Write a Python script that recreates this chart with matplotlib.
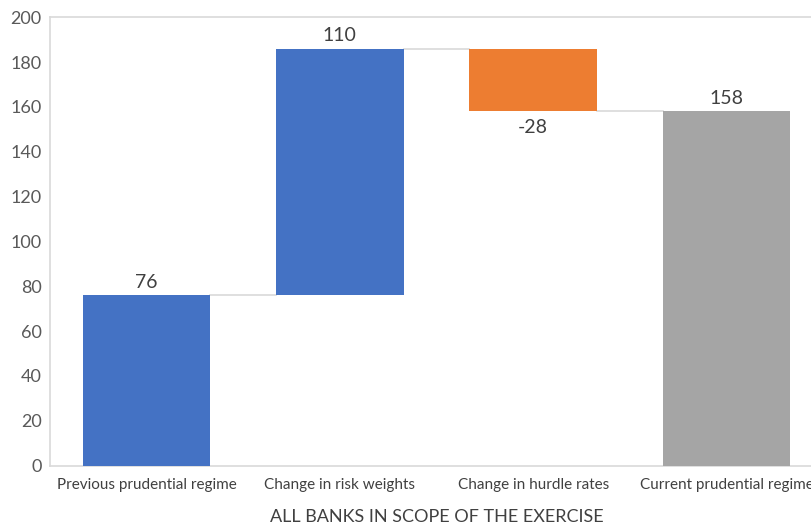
import matplotlib
matplotlib.use("Agg")
import matplotlib.pyplot as plt
import numpy as np

# Waterfall: capital impact going from previous to current prudential regime
categories = ["Previous prudential regime", "Change in risk weights",
              "Change in hurdle rates", "Current prudential regime"]
steps = [76, 110, -28, 158]
kinds = ["total", "delta", "delta", "total"]
colors = ["#4472C4", "#4472C4", "#ED7D31", "#A5A5A5"]
yticks = [0, 20, 40, 60, 80, 100, 120, 140, 160, 180, 200]

plt.rcParams["font.family"] = ["Lato", "DejaVu Sans"]

fig = plt.figure(figsize=(8.12, 5.25), dpi=100)
ax = fig.add_axes([0.0616, 0.113, 0.952, 0.8543])

x = np.arange(len(categories))
width = 0.66
bottoms, tops = [], []
level = 0
for v, k in zip(steps, kinds):
    if k == "total":
        b, t = 0, v
        level = v
    else:
        b, t = level, level + v
        level = t
    bottoms.append(min(b, t))
    tops.append(max(b, t))

heights = [t - b for b, t in zip(bottoms, tops)]
ax.bar(x, heights, width, bottom=bottoms, color=colors, zorder=3)

# connector lines between consecutive bars
ends = []
level = 0
for v, k in zip(steps, kinds):
    level = v if k == "total" else level + v
    ends.append(level)
for i in range(len(x) - 1):
    ax.plot([x[i] + width / 2, x[i + 1] - width / 2], [ends[i], ends[i]],
            color="#D9D9D9", lw=1.2, zorder=2)

# value labels
for i, v in enumerate(steps):
    if v >= 0:
        ax.text(x[i], tops[i] + 2, f"{v}", ha="center", va="bottom",
                fontsize=14, color="#404040")
    else:
        ax.text(x[i], bottoms[i] - 3.5, f"{v}", ha="center", va="top",
                fontsize=14, color="#404040")

ax.set_xlim(-0.5, 3.5)
ax.set_ylim(0, 200)
ax.set_yticks(yticks)
ax.set_xticks(x)
ax.set_xticklabels(categories, fontsize=11, color="#404040")
ax.tick_params(axis="y", labelsize=13, labelcolor="#595959", length=0, pad=6)
ax.tick_params(axis="x", length=0, pad=9)
ax.set_xlabel("ALL BANKS IN SCOPE OF THE EXERCISE", fontsize=13,
              color="#404040", labelpad=12)

for side in ["left", "top", "bottom", "right"]:
    ax.spines[side].set_color("#D9D9D9")
    ax.spines[side].set_linewidth(1.2)

fig.savefig("out.png", dpi=100)
